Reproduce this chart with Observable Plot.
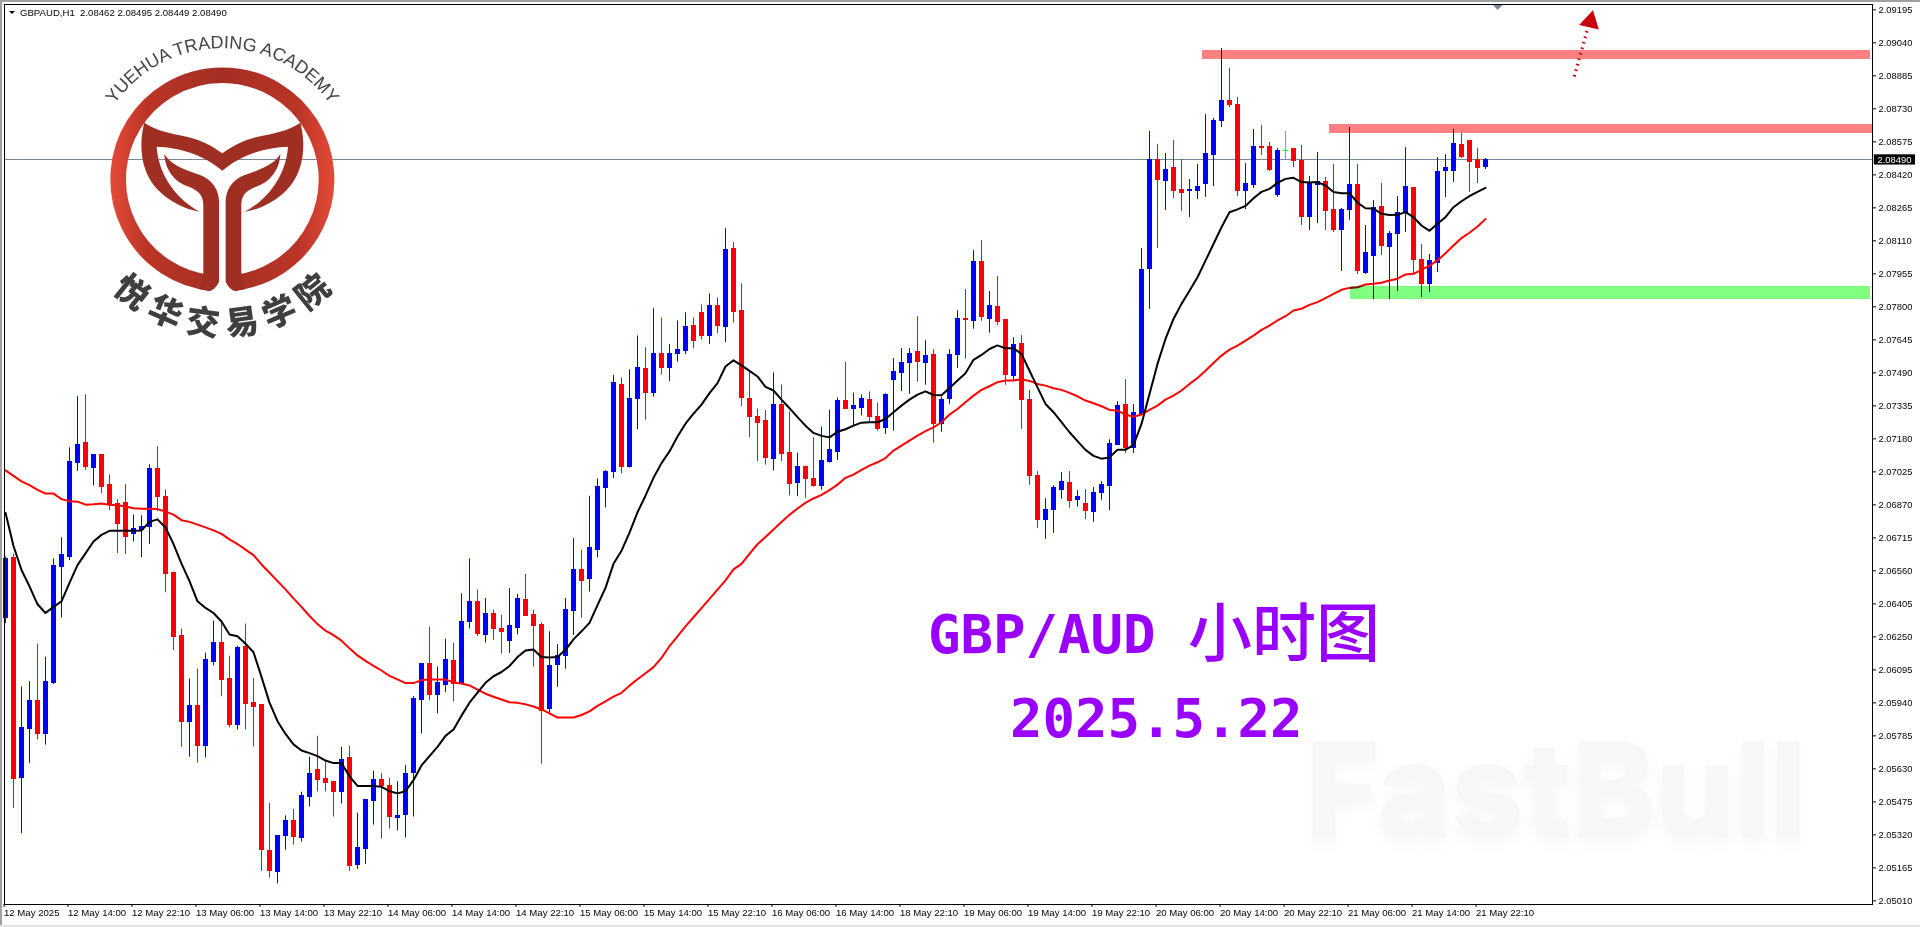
<!DOCTYPE html>
<html>
<head>
<meta charset="utf-8">
<script src="https://cdn.jsdelivr.net/npm/d3@7"></script>
<script src="https://cdn.jsdelivr.net/npm/@observablehq/plot@0.6"></script>
<style>
html,body{margin:0;padding:0;background:#fff;overflow:hidden}
svg{display:block}
</style>
</head>
<body>
<div id="chart"></div>
<script>
// All price arrays: points above 2.05000 (1 point = 0.00001)
const highs=[1625,1639,1015,1040,1216,1154,1616,1715,2138,2378,
2387,2105,2105,2011,1894,1965,1823,1819,2058,2143,
1940,1554,1287,1052,1099,1173,1324,1317,1159,1206,
1310,1055,932,468,317,409,439,520,685,783,
664,572,731,737,421,487,619,608,586,570,
646,970,1121,1296,1109,1239,1220,1452,1616,1471,
1430,1375,1351,1477,1449,1543,1375,1316,1274,1214,
1430,1712,1657,1910,1991,2031,2478,2466,2504,2663,
2608,2791,2748,2622,2734,2772,2748,2809,2861,2842,
3167,3102,2908,2502,2320,2313,2490,2433,2307,2113,
2052,2185,2236,2315,2372,2540,2395,2386,2400,2348,
2392,2557,2604,2604,2754,2641,2599,2375,2599,2782,
2881,3064,3111,2872,2942,2740,2655,2665,2407,2026,
1899,1960,2021,2026,1937,1941,1951,1979,2176,2355,
2458,2341,3074,3624,3563,3520,3581,3492,3398,3469,
3703,3685,4013,3920,3783,3473,3633,3652,3572,3544,
3624,3539,3558,3412,3525,3408,3469,3262,3642,3469,
3182,3299,3379,3154,3318,3548,3360,3093,3046,3501,
3515,3633,3614,3581,3544,3497];
const lows=[1313,444,326,655,766,742,1026,1339,1608,2027,
2032,1959,1923,1843,1641,1637,1696,1622,1684,1838,
1457,1185,731,685,657,681,1114,969,823,813,
813,733,149,117,91,248,272,286,451,522,
522,404,465,149,158,182,366,300,347,338,
305,404,794,950,889,988,944,1028,1287,1251,
1221,1234,1169,1172,1259,1347,1108,652,888,1013,
1098,1257,1338,1460,1621,1856,1993,2016,2043,2223,
2268,2376,2480,2449,2540,2575,2603,2644,2624,2674,
2632,2724,2331,2185,2074,2057,2029,2074,1912,1908,
1901,1953,1939,2066,2078,2317,2242,2288,2260,2216,
2201,2216,2402,2389,2446,2432,2159,2211,2342,2511,
2554,2695,2732,2676,2713,2432,2454,2225,1962,1760,
1708,1736,1896,1854,1859,1801,1788,1891,1843,2148,
2111,2111,2297,2788,3074,3253,3309,3248,3220,3304,
3314,3365,3642,3736,3318,3257,3356,3511,3436,3314,
3492,3454,3182,3159,3191,3159,3149,2966,3206,2952,
2952,2834,3041,2834,2872,3149,2952,2844,2867,2961,
3313,3384,3497,3337,3379,3445];
const bodyTops=[1616,1620,821,948,948,1038,1584,1635,2072,2153,
2162,2105,2105,1965,1874,1880,1757,1767,2039,2039,
1907,1551,1254,924,924,1140,1220,1220,1052,1197,
1202,938,929,246,317,387,383,501,608,624,
581,567,674,679,260,482,576,576,548,411,
608,957,1121,1121,1033,1140,1137,1320,1414,1414,
1359,1359,1285,1299,1430,1425,1351,1307,1115,1160,
1375,1562,1562,1666,1953,2024,2442,2433,2367,2513,
2507,2578,2578,2578,2598,2707,2710,2772,2805,2805,
3069,3074,2781,2367,2282,2263,2339,2339,2113,2047,
2047,1991,2074,2126,2357,2357,2334,2367,2362,2282,
2388,2496,2537,2579,2590,2571,2576,2364,2576,2745,
2745,3012,3012,2806,2801,2740,2623,2627,2364,2007,
1848,1951,1979,1974,1909,1876,1927,1965,2158,2336,
2341,2303,2975,3492,3492,3445,3450,3351,3351,3365,
3516,3675,3769,3769,3750,3375,3553,3553,3553,3534,
3533,3539,3487,3375,3384,3384,3253,3257,3370,3370,
3051,3262,3267,3140,3243,3365,3360,3022,3013,3435,
3454,3567,3562,3581,3492,3492];
const bodyBottoms=[1339,582,588,818,794,794,1033,1580,1627,2065,
2046,2041,1956,1868,1778,1717,1731,1750,1764,1906,
1547,1251,851,851,738,738,1133,1048,837,837,
936,922,248,149,144,314,309,305,498,577,
563,522,522,172,177,253,478,550,404,399,
413,610,955,977,977,1024,1029,1033,1322,1265,
1259,1286,1273,1229,1292,1347,1300,900,909,1117,
1160,1371,1512,1522,1659,1950,2026,2048,2047,2369,
2397,2393,2514,2514,2577,2594,2641,2663,2665,2710,
2703,2774,2374,2284,2255,2090,2087,2109,1969,1972,
1991,1957,1960,2073,2118,2320,2320,2324,2284,2225,
2230,2455,2488,2535,2540,2535,2248,2248,2366,2572,
2737,2735,2751,2742,2728,2479,2477,2361,2004,1797,
1801,1844,1942,1887,1891,1840,1838,1927,1957,2153,
2139,2139,2297,2980,3398,3393,3342,3337,3342,3346,
3375,3511,3671,3746,3342,3342,3370,3548,3445,3323,
3533,3483,3224,3224,3370,3248,3159,3163,3257,2966,
2961,3041,3088,3083,3140,3243,3022,2905,2909,3008,
3440,3440,3506,3482,3454,3459];
// b = bull, r = bear, g = doji
const directions=("brbbrbbbbb"+"rbrrrrbbbr"+"rrrbrbbrrb"+"rrrrbbrbbr"+"rrbrbbbrrb"+
"bbbrbbrbbr"+"brrbbrrrbb"+"bbrbbbbrbb"+"rbrbbbrrbr"+"brrrrrbrrb"+
"rrbbbrbbrr"+"bbbbrbrbbb"+"rbrbrrbrrr"+"bbbrbrbbbb"+"rbbbrbrrbb"+
"bbbrrbbrrb"+"grrbbrrbbr"+"bbrbbbrrbb"+"bbrrrb").split("");
const maFast=[1833,1677,1564,1487,1403,1362,1391,1417,1504,1587,
1642,1698,1729,1748,1748,1748,1748,1750,1790,1802,
1764,1686,1594,1512,1417,1386,1362,1322,1261,1253,
1218,1178,1062,941,854,794,745,716,704,690,
669,657,657,595,550,550,550,546,525,515,
525,577,646,690,733,785,815,880,941,988,
1034,1065,1085,1113,1155,1186,1191,1155,1153,1155,
1189,1238,1276,1316,1399,1480,1593,1654,1740,1835,
1913,1997,2066,2121,2191,2251,2298,2341,2395,2442,
2520,2549,2525,2499,2473,2424,2407,2364,2324,2282,
2242,2208,2194,2187,2213,2225,2242,2256,2258,2258,
2273,2305,2336,2364,2388,2403,2386,2385,2419,2454,
2488,2551,2574,2602,2619,2605,2605,2579,2500,2422,
2344,2305,2258,2211,2169,2128,2100,2087,2093,2129,
2129,2151,2250,2391,2532,2649,2743,2814,2876,2939,
3017,3095,3174,3244,3258,3274,3310,3340,3354,3382,
3401,3406,3386,3384,3386,3370,3339,3334,3334,3289,
3263,3262,3237,3231,3232,3245,3221,3182,3157,3190,
3221,3268,3296,3320,3340,3359];
const maSlow=[2032,2006,1980,1963,1940,1923,1923,1897,1887,1885,
1871,1873,1876,1871,1868,1862,1854,1852,1852,1850,
1838,1824,1798,1790,1777,1764,1750,1734,1708,1686,
1660,1634,1590,1551,1512,1473,1431,1391,1348,1310,
1279,1258,1232,1196,1163,1137,1114,1092,1067,1050,
1033,1033,1047,1050,1050,1050,1036,1031,1022,1002,
983,969,956,943,940,933,923,909,891,871,
871,871,883,900,926,947,969,987,1021,1051,
1079,1108,1151,1207,1252,1299,1342,1385,1428,1472,
1515,1567,1593,1640,1685,1719,1754,1789,1823,1853,
1879,1900,1917,1939,1965,1997,2012,2034,2054,2070,
2090,2125,2148,2172,2195,2216,2234,2258,2294,2320,
2352,2383,2410,2427,2446,2454,2454,2460,2452,2438,
2430,2418,2410,2396,2380,2360,2347,2333,2316,2313,
2294,2284,2294,2316,2336,2364,2383,2407,2438,2466,
2500,2536,2571,2599,2618,2641,2665,2692,2712,2736,
2756,2783,2791,2809,2822,2841,2861,2880,2889,2892,
2905,2908,2913,2924,2932,2952,2955,2974,2994,3018,
3052,3088,3123,3148,3177,3212];
const xLabels=["12 May 2025","12 May 14:00","12 May 22:10","13 May 06:00","13 May 14:00","13 May 22:10","14 May 06:00","14 May 14:00","14 May 22:10","15 May 06:00","15 May 14:00","15 May 22:10","16 May 06:00","16 May 14:00","18 May 22:10","19 May 06:00","19 May 14:00","19 May 22:10","20 May 06:00","20 May 14:00","20 May 22:10","21 May 06:00","21 May 14:00","21 May 22:10"];
const yTicks=[2.09195,2.0904,2.08885,2.0873,2.08575,2.0842,2.08265,2.0811,2.07955,2.078,2.07645,2.0749,2.07335,2.0718,2.07025,2.0687,2.06715,2.0656,2.06405,2.0625,2.06095,2.0594,2.05785,2.0563,2.05475,2.0532,2.05165,2.0501];
const quote={symbol:"GBPAUD,H1",open:2.08462,high:2.08495,low:2.08449,close:2.0849};
const zones=[
  {from:149.6,to:233.1,top:2.09004,bottom:2.08962,color:"#ff8080"},
  {from:165.5,to:233.375,top:2.08656,bottom:2.08614,color:"#ff8080"},
  {from:168.1,to:233.1,top:2.07895,bottom:2.07834,color:"#80ff80"}
];
const arrowPath=[{i:196.1,p:2.08882},{i:197.7,p:2.09098}];
const arrowHead=[{i:198.1,p:2.0914}];

const price=v=>2.05+v/1e5;
const candleColor={b:"#0000ff",r:"#ff0000",g:"#00ff00"};
const candles=highs.map((h,i)=>({i,high:price(h),low:price(lows[i]),top:price(bodyTops[i]),bottom:price(bodyBottoms[i]),color:candleColor[directions[i]]}));
const fast=maFast.map((v,i)=>({i,p:price(v)}));
const slow=maSlow.map((v,i)=>({i,p:price(v)}));
const axisFont="'Liberation Sans',Arial,sans-serif";

const plot=Plot.plot({
  width:1920,height:927,
  marginLeft:4,marginRight:48,marginTop:4,marginBottom:23,
  style:{background:"#fff",overflow:"visible"},
  x:{domain:[-0.125,233.375]},
  y:{domain:[2.04993,2.0922]},
  marks:[
    Plot.ruleY([quote.close],{stroke:"#778899",strokeWidth:1,shapeRendering:"crispEdges"}),
    Plot.ruleX(candles,{x:"i",y1:"low",y2:"high",stroke:"color",strokeWidth:1}),
    Plot.rect(candles,{x1:d=>d.i-0.25,x2:d=>d.i+0.375,y1:"bottom",y2:"top",fill:"color",insetTop:-0.5,insetBottom:-0.5,shapeRendering:"crispEdges"}),
    Plot.line(slow,{x:"i",y:"p",stroke:"#ff0000",strokeWidth:2,curve:"linear"}),
    Plot.line(fast,{x:"i",y:"p",stroke:"#000000",strokeWidth:2,curve:"linear"}),
    Plot.rect(zones,{x1:"from",x2:"to",y1:"bottom",y2:"top",fill:"color",mixBlendMode:"multiply",shapeRendering:"crispEdges"}),
    Plot.line(arrowPath,{x:"i",y:"p",stroke:"#cc0011",strokeWidth:3.2,strokeDasharray:"1.6 4.1",strokeLinecap:"butt"}),
    Plot.dot(arrowHead,{x:"i",y:"p",symbol:"triangle",r:7.5,fill:"#c8000f",rotate:13}),
    Plot.frame({stroke:"#000",strokeWidth:1}),
    Plot.axisY({anchor:"right",ticks:yTicks,tickFormat:d3.format(".5f"),tickSize:3,tickPadding:3,fontSize:9.4,fontFamily:axisFont,stroke:"#000",fill:"#000",label:null}),
    Plot.axisX({anchor:"bottom",ticks:xLabels.map((_,k)=>k*8),tickFormat:d=>xLabels[d/8],tickSize:3,tickPadding:2,fontSize:9.6,fontFamily:axisFont,textAnchor:"start",dx:-1.5,stroke:"#000",fill:"#000",label:null}),
    Plot.rect([quote.close],{x1:()=>233.6,x2:()=>238.75,y1:d=>d-0.00024,y2:d=>d+0.00024,fill:"#000"}),
    Plot.text([quote.close],{x:()=>234.0,y:d=>d,text:d=>d3.format(".5f")(d),fill:"#fff",textAnchor:"start",fontSize:9.4,fontFamily:axisFont})
  ]
});
document.getElementById("chart").append(plot);

const svg=d3.select(plot);
// window chrome
const chrome=svg.append("g");
chrome.append("rect").attr("x",0).attr("y",0).attr("width",1920).attr("height",2).attr("fill","#a0a0a0");
chrome.append("rect").attr("x",0).attr("y",0).attr("width",2).attr("height",927).attr("fill","#a0a0a0");
chrome.append("rect").attr("x",0).attr("y",925).attr("width",1920).attr("height",2).attr("fill","#e4e4e4");
chrome.append("path").attr("d","M1493 5H1502.5L1497.7 10Z").attr("fill","#778899");
chrome.append("path").attr("d","M9 11H15L12 14Z").attr("fill","#000");
chrome.append("text").attr("x",20).attr("y",16).attr("text-anchor","start").attr("font-family",axisFont).attr("font-size",9.6).attr("fill","#000")
  .style("white-space","pre")
  .text(`${quote.symbol}  ${quote.open.toFixed(5)} ${quote.high.toFixed(5)} ${quote.low.toFixed(5)} ${quote.close.toFixed(5)}`);

// headline
const mono="'DejaVu Sans Mono','Liberation Mono',monospace";
const head=svg.append("text").attr("x",928).attr("y",653).attr("text-anchor","start").attr("fill","#9900ff").attr("font-family",mono).attr("font-weight",700).attr("font-size",54);
head.append("tspan").style("white-space","pre").text("GBP/AUD ");
head.append("tspan").attr("font-family","'Noto Sans CJK SC'").attr("font-weight",500).attr("font-size",64).attr("dy",3).text("小时图");
svg.append("text").attr("x",1010).attr("y",737).attr("text-anchor","start").attr("fill","#9900ff").attr("font-family",mono).attr("font-weight",700).attr("font-size",54).text("2025.5.22");

// watermark
svg.append("text").attr("x",1306).attr("y",837).attr("text-anchor","start").attr("fill","#f7f7f7").attr("font-family","Inter,'Open Sans',sans-serif").attr("font-weight",800).attr("font-size",132)
  .attr("textLength",500).attr("lengthAdjust","spacingAndGlyphs")
  .style("filter","drop-shadow(0 6px 7px rgba(0,0,0,.035))").text("FastBull");

// logo (drawn in a 3x local space)
const defs=svg.append("defs");
const grad=defs.append("linearGradient").attr("id","ringGrad").attr("gradientUnits","userSpaceOnUse").attr("x1",331).attr("x2",1003).attr("y1",0).attr("y2",0);
[[0,"#e44a38"],[0.16,"#bb3527"],[0.5,"#a32f23"],[0.84,"#bb3527"],[1,"#e44a38"]].forEach(([o,c])=>grad.append("stop").attr("offset",o).attr("stop-color",c));
defs.append("path").attr("id","logoArc").attr("d","M340 318 A395 395 0 0 1 994 318");
const logo=svg.append("g").attr("transform","scale(0.33333)");
logo.append("path").attr("d","M635 849A312.5 312.5 0 1 1 699 849").attr("fill","none").attr("stroke","url(#ringGrad)").attr("stroke-width",47);
const bodyColor="#9f2f23";
logo.append("path").attr("fill",bodyColor).attr("d","M433 368C470 395 525 402 560 410C605 420 640 440 667 460C694 440 729 420 774 410C809 402 864 395 901 368C920 440 910 520 860 570C825 605 780 628 735 635C800 600 858 530 864 440C800 442 725 462 667 512C609 462 534 442 470 440C476 530 534 600 599 635C554 628 509 605 474 570C424 520 414 440 433 368Z");
const leaf="M493 462C510 490 540 505 600 525C640 540 660 575 657 615L657 845C650 860 640 872 625 873L600 868L610 822L610 615C610 585 595 570 560 558C525 545 495 510 493 462Z";
logo.append("path").attr("fill",bodyColor).attr("d",leaf);
logo.append("path").attr("fill",bodyColor).attr("d",leaf).attr("transform","translate(1334 0) scale(-1 1)");
logo.append("text").attr("font-family","'Liberation Sans',Arial,sans-serif").attr("font-size",54).attr("fill","#444")
  .append("textPath").attr("href","#logoArc").attr("startOffset","50%").attr("text-anchor","middle").text("YUEHUA TRADING ACADEMY");
const academy="悦华交易学院".split("");
academy.forEach((ch,k)=>{
  const a=(2.5-k)*15.5, r=a*Math.PI/180, R=425;
  const cx=667-R*Math.sin(r), cy=538+R*Math.cos(r);
  logo.append("text").attr("transform",`translate(${cx} ${cy}) rotate(${a})`).attr("text-anchor","middle").attr("dominant-baseline","central")
    .attr("font-family","'Noto Sans CJK SC'").attr("font-weight",900).attr("font-size",100).attr("fill","#3f3f3f").text(ch);
});
</script>
</body>
</html>
